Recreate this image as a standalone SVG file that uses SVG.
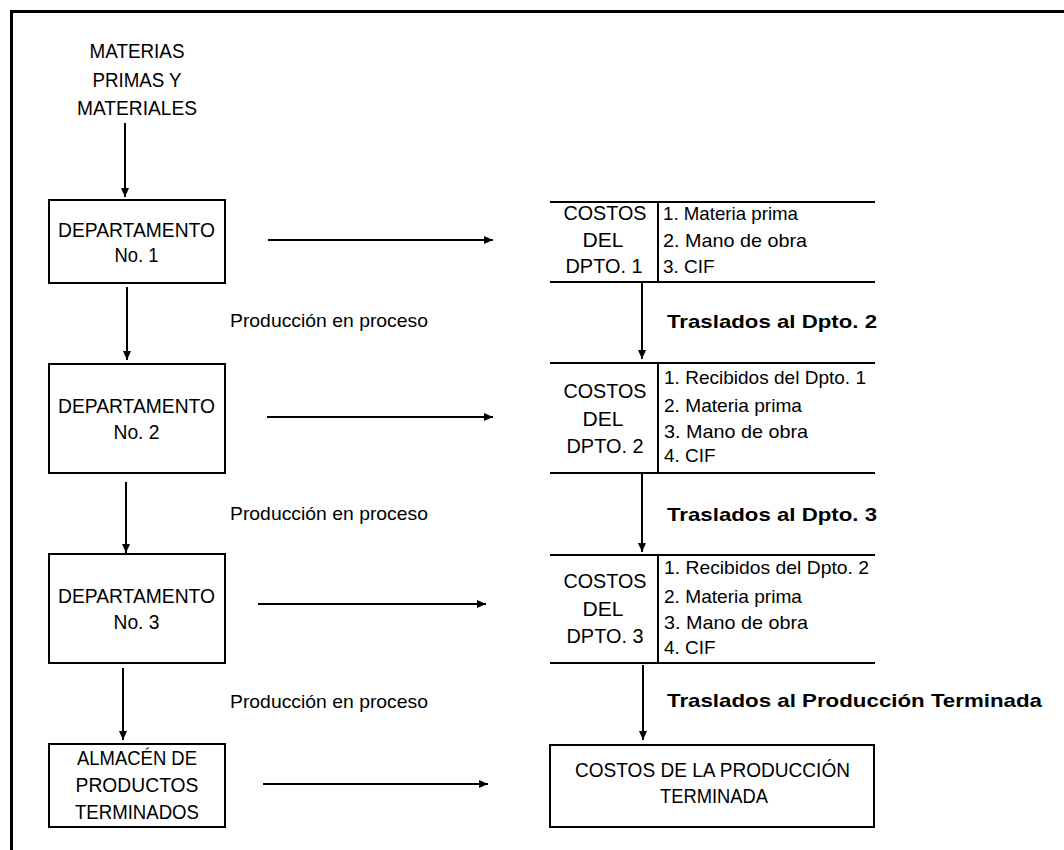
<svg xmlns="http://www.w3.org/2000/svg" width="1064" height="850" viewBox="0 0 1064 850">
<defs>
<marker id="ah" markerWidth="10" markerHeight="10" refX="9" refY="5" orient="auto" markerUnits="userSpaceOnUse">
<path d="M0,1 L9,5 L0,9 Z" fill="#000"/>
</marker>
<style>
text{font-family:"Liberation Sans",Arial,sans-serif;font-size:19px;fill:#000}
.c{text-anchor:middle}
.u{font-size:20px}
.b{font-weight:bold}
.box{fill:#fff;stroke:#000;stroke-width:2}
.ln{stroke:#000;stroke-width:2;fill:none}
.ar{stroke:#000;stroke-width:2;fill:none;marker-end:url(#ah)}
</style>
</defs>
<rect width="1064" height="850" fill="#fff"/>
<path d="M11.5,850 V11.5 H1064" fill="none" stroke="#000" stroke-width="3"/>

<g id="materias">
<text class="c u" x="137" y="58" textLength="95" lengthAdjust="spacingAndGlyphs">MATERIAS</text>
<text class="c u" x="137" y="87" textLength="89" lengthAdjust="spacingAndGlyphs">PRIMAS Y</text>
<text class="c u" x="137" y="115" textLength="120" lengthAdjust="spacingAndGlyphs">MATERIALES</text>
</g>

<g id="dept1">
<rect class="box" x="49" y="200" width="176" height="83"/>
<text class="c u" x="136.5" y="237" textLength="157" lengthAdjust="spacingAndGlyphs">DEPARTAMENTO</text>
<text class="c u" x="136.5" y="262" textLength="44" lengthAdjust="spacingAndGlyphs">No. 1</text>
</g>
<g id="dept2">
<rect class="box" x="49" y="364" width="176" height="109"/>
<text class="c u" x="136.5" y="413" textLength="157" lengthAdjust="spacingAndGlyphs">DEPARTAMENTO</text>
<text class="c u" x="136.5" y="439" textLength="46" lengthAdjust="spacingAndGlyphs">No. 2</text>
</g>
<g id="dept3">
<rect class="box" x="49" y="554" width="176" height="109"/>
<text class="c u" x="136.5" y="603" textLength="157" lengthAdjust="spacingAndGlyphs">DEPARTAMENTO</text>
<text class="c u" x="136.5" y="629" textLength="46" lengthAdjust="spacingAndGlyphs">No. 3</text>
</g>
<g id="almacen">
<rect class="box" x="49" y="744" width="176" height="83"/>
<text class="c u" x="137" y="765" textLength="120" lengthAdjust="spacingAndGlyphs">ALMACÉN DE</text>
<text class="c u" x="137" y="792" textLength="123" lengthAdjust="spacingAndGlyphs">PRODUCTOS</text>
<text class="c u" x="137" y="819" textLength="124" lengthAdjust="spacingAndGlyphs">TERMINADOS</text>
</g>

<g id="costos1">
<path class="ln" d="M550,202 H875 M550,282 H875 M658,202 V282"/>
<text class="c u" x="605" y="220" textLength="83" lengthAdjust="spacingAndGlyphs">COSTOS</text>
<text class="c u" x="603" y="247" textLength="41" lengthAdjust="spacingAndGlyphs">DEL</text>
<text class="c u" x="604" y="273" textLength="77" lengthAdjust="spacingAndGlyphs">DPTO. 1</text>
<text x="663" y="220" textLength="135" lengthAdjust="spacingAndGlyphs">1. Materia prima</text>
<text x="663" y="247" textLength="144" lengthAdjust="spacingAndGlyphs">2. Mano de obra</text>
<text x="663" y="273">3. CIF</text>
</g>
<g id="costos2">
<path class="ln" d="M550,363 H875 M550,473 H875 M658,363 V473"/>
<text class="c u" x="605" y="398" textLength="83" lengthAdjust="spacingAndGlyphs">COSTOS</text>
<text class="c u" x="603" y="426" textLength="41" lengthAdjust="spacingAndGlyphs">DEL</text>
<text class="c u" x="605" y="453" textLength="77" lengthAdjust="spacingAndGlyphs">DPTO. 2</text>
<text x="664" y="384" textLength="202" lengthAdjust="spacingAndGlyphs">1. Recibidos del Dpto. 1</text>
<text x="664" y="412" textLength="138" lengthAdjust="spacingAndGlyphs">2. Materia prima</text>
<text x="664" y="438" textLength="144" lengthAdjust="spacingAndGlyphs">3. Mano de obra</text>
<text x="664" y="462">4. CIF</text>
</g>
<g id="costos3">
<path class="ln" d="M550,555 H875 M550,663 H875 M658,555 V663"/>
<text class="c u" x="605" y="588" textLength="83" lengthAdjust="spacingAndGlyphs">COSTOS</text>
<text class="c u" x="603" y="616" textLength="41" lengthAdjust="spacingAndGlyphs">DEL</text>
<text class="c u" x="605" y="643" textLength="77" lengthAdjust="spacingAndGlyphs">DPTO. 3</text>
<text x="664" y="574" textLength="205" lengthAdjust="spacingAndGlyphs">1. Recibidos del Dpto. 2</text>
<text x="664" y="603" textLength="138" lengthAdjust="spacingAndGlyphs">2. Materia prima</text>
<text x="664" y="629" textLength="144" lengthAdjust="spacingAndGlyphs">3. Mano de obra</text>
<text x="664" y="654">4. CIF</text>
</g>
<g id="costosTerminada">
<rect class="box" x="550" y="745" width="324" height="82"/>
<text class="c u" x="712.5" y="777" textLength="275" lengthAdjust="spacingAndGlyphs">COSTOS DE LA PRODUCCIÓN</text>
<text class="c u" x="714" y="803" textLength="108" lengthAdjust="spacingAndGlyphs">TERMINADA</text>
</g>

<g id="labels">
<text x="230" y="327" textLength="198" lengthAdjust="spacingAndGlyphs">Producción en proceso</text>
<text x="230" y="520" textLength="198" lengthAdjust="spacingAndGlyphs">Producción en proceso</text>
<text x="230" y="708" textLength="198" lengthAdjust="spacingAndGlyphs">Producción en proceso</text>
<text class="b" x="667" y="328" textLength="210" lengthAdjust="spacingAndGlyphs">Traslados al Dpto. 2</text>
<text class="b" x="667" y="521" textLength="210" lengthAdjust="spacingAndGlyphs">Traslados al Dpto. 3</text>
<text class="b" x="667" y="707" textLength="375" lengthAdjust="spacingAndGlyphs">Traslados al Producción Terminada</text>
</g>

<g id="connectors">
<line class="ar" x1="125" y1="123" x2="125" y2="197"/>
<line class="ar" x1="127" y1="287" x2="127" y2="360"/>
<line class="ar" x1="126" y1="482" x2="126" y2="553"/>
<line class="ar" x1="123" y1="668" x2="123" y2="740"/>
<line class="ar" x1="268" y1="240" x2="493" y2="240"/>
<line class="ar" x1="267" y1="417" x2="493" y2="417"/>
<line class="ar" x1="258" y1="604" x2="486" y2="604"/>
<line class="ar" x1="263" y1="784" x2="488" y2="784"/>
<line class="ar" x1="642" y1="283" x2="642" y2="359"/>
<line class="ar" x1="642" y1="474" x2="642" y2="552"/>
<line class="ar" x1="643" y1="665" x2="643" y2="740"/>
</g>
</svg>
